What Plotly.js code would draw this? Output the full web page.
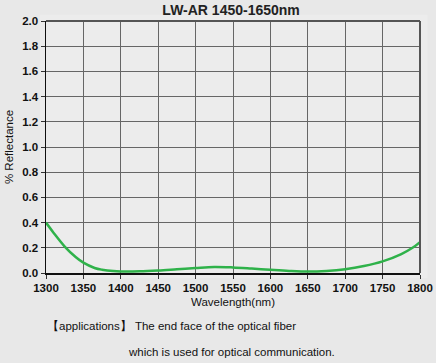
<!DOCTYPE html>
<html><head><meta charset="utf-8">
<script src="https://cdn.plot.ly/plotly-3.0.1.min.js"></script>
<style>body{margin:0;background:#e8e8e8;}#c{width:436px;height:363px;}</style>
</head><body><div id="c"></div>
<script>
const wavelength = [1300,1310,1325,1340,1350,1365,1375,1390,1400,1425,1450,1475,1500,1525,1550,1575,1600,1625,1650,1675,1700,1725,1750,1775,1790,1800];
const reflectance = [0.40,0.32,0.21,0.125,0.082,0.040,0.026,0.015,0.012,0.013,0.020,0.030,0.040,0.048,0.044,0.035,0.025,0.016,0.011,0.016,0.030,0.055,0.092,0.150,0.200,0.245];
const xTicks = [1300,1350,1400,1450,1500,1550,1600,1650,1700,1750,1800];
const yTicks = [0,0.2,0.4,0.6,0.8,1.0,1.2,1.4,1.6,1.8,2.0];
const yTickText = yTicks.map(v=>v.toFixed(1));

const shapes = [];
xTicks.slice(1,-1).forEach(v=>shapes.push({type:'line',xref:'x',yref:'paper',xsizemode:'pixel',xanchor:v,x0:1.2,x1:1.2,y0:0,y1:1,line:{color:'#f4f4f4',width:1},layer:'below'}));
yTicks.slice(1,-1).forEach(v=>shapes.push({type:'line',xref:'paper',yref:'y',ysizemode:'pixel',yanchor:v,y0:-1.2,y1:-1.2,x0:0,x1:1,line:{color:'#f4f4f4',width:1},layer:'below'}));
shapes.push({type:'rect',xref:'paper',yref:'paper',x0:-0.016,x1:1.02,y0:-0.02,y1:1.025,fillcolor:'#ececec',line:{width:0},layer:'below'});
shapes.push({type:'line',xref:'paper',yref:'paper',x0:0,x1:1,y0:1,y1:1,line:{color:'#555',width:2}});
shapes.push({type:'line',xref:'paper',yref:'paper',x0:1,x1:1,y0:0,y1:1,line:{color:'#555',width:2}});

const data = [{x:wavelength,y:reflectance,type:'scatter',mode:'lines',line:{color:'#2fb24a',width:2.5,shape:'spline',smoothing:1},hoverinfo:'none'}];
const layout = {
  width:436,height:363,
  margin:{l:46,r:16,t:21,b:90},
  paper_bgcolor:'#e8e8e8',plot_bgcolor:'#e0e0e0',
  font:{family:'Liberation Sans, Arial, sans-serif',color:'#111',size:11},
  title:{text:'<b>LW-AR 1450-1650nm</b>',font:{size:14,color:'#222'},x:0.53,xanchor:'center',y:0.972,yanchor:'middle'},
  showlegend:false,
  xaxis:{range:[1300,1800],tickvals:xTicks,ticktext:xTicks.map(String),showgrid:true,gridcolor:'#666',gridwidth:1,
    showline:true,linecolor:'#111',linewidth:1.5,ticks:'outside',ticklen:4,tickcolor:'#333',zeroline:false,
    tickfont:{size:11.5,color:'#111',weight:'bold'},
    title:{text:'Wavelength(nm)',font:{size:11.5,color:'#111'},standoff:4}},
  yaxis:{range:[0,2.0],tickvals:yTicks,ticktext:yTickText,showgrid:true,gridcolor:'#666',gridwidth:1,
    showline:true,linecolor:'#111',linewidth:1.5,ticks:'outside',ticklen:4,tickcolor:'#333',zeroline:false,
    tickfont:{size:11.5,color:'#111',weight:'bold'},
    title:{text:'% Reflectance',font:{size:11.5,color:'#111'},standoff:6}},
  shapes:shapes,
  annotations:[
    {text:'【applications】 The end face of the optical fiber',xref:'paper',yref:'paper',x:-0.002,y:-0.21,xanchor:'left',yanchor:'middle',showarrow:false,font:{size:11.5,color:'#111'}},
    {text:'which is used for optical communication.',xref:'paper',yref:'paper',x:0.215,y:-0.315,xanchor:'left',yanchor:'middle',showarrow:false,font:{size:11.5,color:'#111'}}
  ]
};
Plotly.newPlot('c',data,layout,{displayModeBar:false,staticPlot:true});
</script></body></html>
